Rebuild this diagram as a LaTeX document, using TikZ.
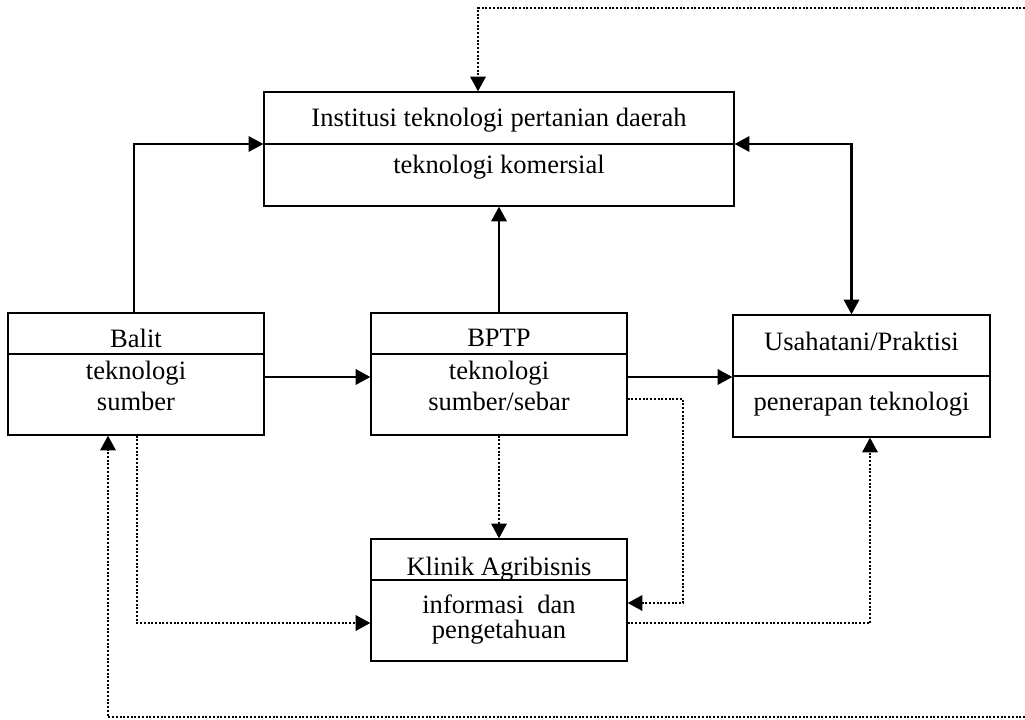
\documentclass[tikz,border=0pt]{standalone}
\usepackage{fontspec}
\setmainfont{Liberation Serif}
\usetikzlibrary{shapes, arrows.meta, positioning}
\tikzstyle{block} = [rectangle, draw, line width=1pt, inner sep=0pt]
\tikzstyle{boxtext} = [anchor=base, inner sep=0pt, font=\fontsize{19.9}{24}\selectfont]
\tikzstyle{divider} = [draw, line width=1pt]
\tikzstyle{connector} = [draw, line width=1.6pt, -{Triangle[length=11pt, width=11.5pt]}]
\tikzstyle{dotconnector} = [draw, line width=1.6pt, dash pattern=on 1.5pt off 1.3pt, -{Triangle[length=11pt, width=11.5pt]}]

\begin{document}
\begin{tikzpicture}[x=0.75pt, y=-0.75pt]
\useasboundingbox (0,0) rectangle (1025,720);

\node [block, minimum width=352.5pt, minimum height=85.5pt] at (499,149) (inst) {};

\node [block, minimum width=192pt, minimum height=91.5pt] at (136,374) (balit) {};
\node [block, minimum width=192pt, minimum height=91.5pt] at (499,374) (bptp) {};
\node [block, minimum width=192.75pt, minimum height=91.5pt] at (861.5,376) (usaha) {};

\node [block, minimum width=192pt, minimum height=91.5pt] at (499,600) (klinik) {};

\coordinate (inst_sep) at (499,144);
\coordinate (balit_sep) at (136,354);
\coordinate (bptp_sep) at (499,354);
\coordinate (usaha_sep) at (861.5,376);
\coordinate (klinik_sep) at (499,580);

\path [divider] (inst.west |- inst_sep) -- (inst.east |- inst_sep);
\path [divider] (balit.west |- balit_sep) -- (balit.east |- balit_sep);
\path [divider] (bptp.west |- bptp_sep) -- (bptp.east |- bptp_sep);
\path [divider] (usaha.west |- usaha_sep) -- (usaha.east |- usaha_sep);
\path [divider] (klinik.west |- klinik_sep) -- (klinik.east |- klinik_sep);

\node [boxtext] at (499,127) (inst_title) {Institusi teknologi pertanian daerah};
\node [boxtext] at (499,174) (inst_text) {teknologi komersial};

\node [boxtext] at (136,348) (balit_title) {Balit};
\node [boxtext] at (136,379) (balit_text1) {teknologi};
\node [boxtext] at (136,410) (balit_text2) {sumber};

\node [boxtext] at (499,347) (bptp_title) {BPTP};
\node [boxtext] at (499,379) (bptp_text1) {teknologi};
\node [boxtext] at (499,410) (bptp_text2) {sumber/sebar};

\node [boxtext] at (861.5,351) (usaha_title) {Usahatani/Praktisi};
\node [boxtext] at (861.5,410) (usaha_text) {penerapan teknologi};

\node [boxtext] at (499,575) (klinik_title) {Klinik Agribisnis};
\node [boxtext] at (499,613) (klinik_text1) {informasi\ \ dan};
\node [boxtext] at (499,638) (klinik_text2) {pengetahuan};

\coordinate (fb_top) at (1025,8);
\coordinate (fb_bottom) at (1025,717);
\coordinate (bptp_kink) at (683,399);

\path [connector] ([xshift=-1.5pt]balit.north) |- (inst.west |- inst_sep);
\path [connector] (bptp.north) -- (inst.south);
\path [connector, {Triangle[length=11pt, width=11.5pt]}-{Triangle[length=11pt, width=11.5pt]}] ([xshift=-7.5pt]usaha.north) |- (inst.east |- inst_sep);

\path [connector] ([yshift=-2.25pt]balit.east) -- ([yshift=-2.25pt]bptp.west);
\path [connector] ([yshift=-2.25pt]bptp.east) -- ([yshift=-0.75pt]usaha.west);

\path [dotconnector] (bptp.south) -- (klinik.north);
\path [dotconnector] (bptp.east |- bptp_kink) -- (bptp_kink) |- ([yshift=-2.25pt]klinik.east);
\path [dotconnector] ([xshift=0.75pt]balit.south) |- ([yshift=-17.25pt]klinik.west);
\path [dotconnector] ([yshift=-17.25pt]klinik.east) -| ([xshift=6.375pt]usaha.south);

\path [dotconnector] (fb_bottom) -| ([xshift=-21pt]balit.south);
\path [dotconnector] (fb_top) -| ([xshift=-15.75pt]inst.north);

\end{tikzpicture}
\end{document}
